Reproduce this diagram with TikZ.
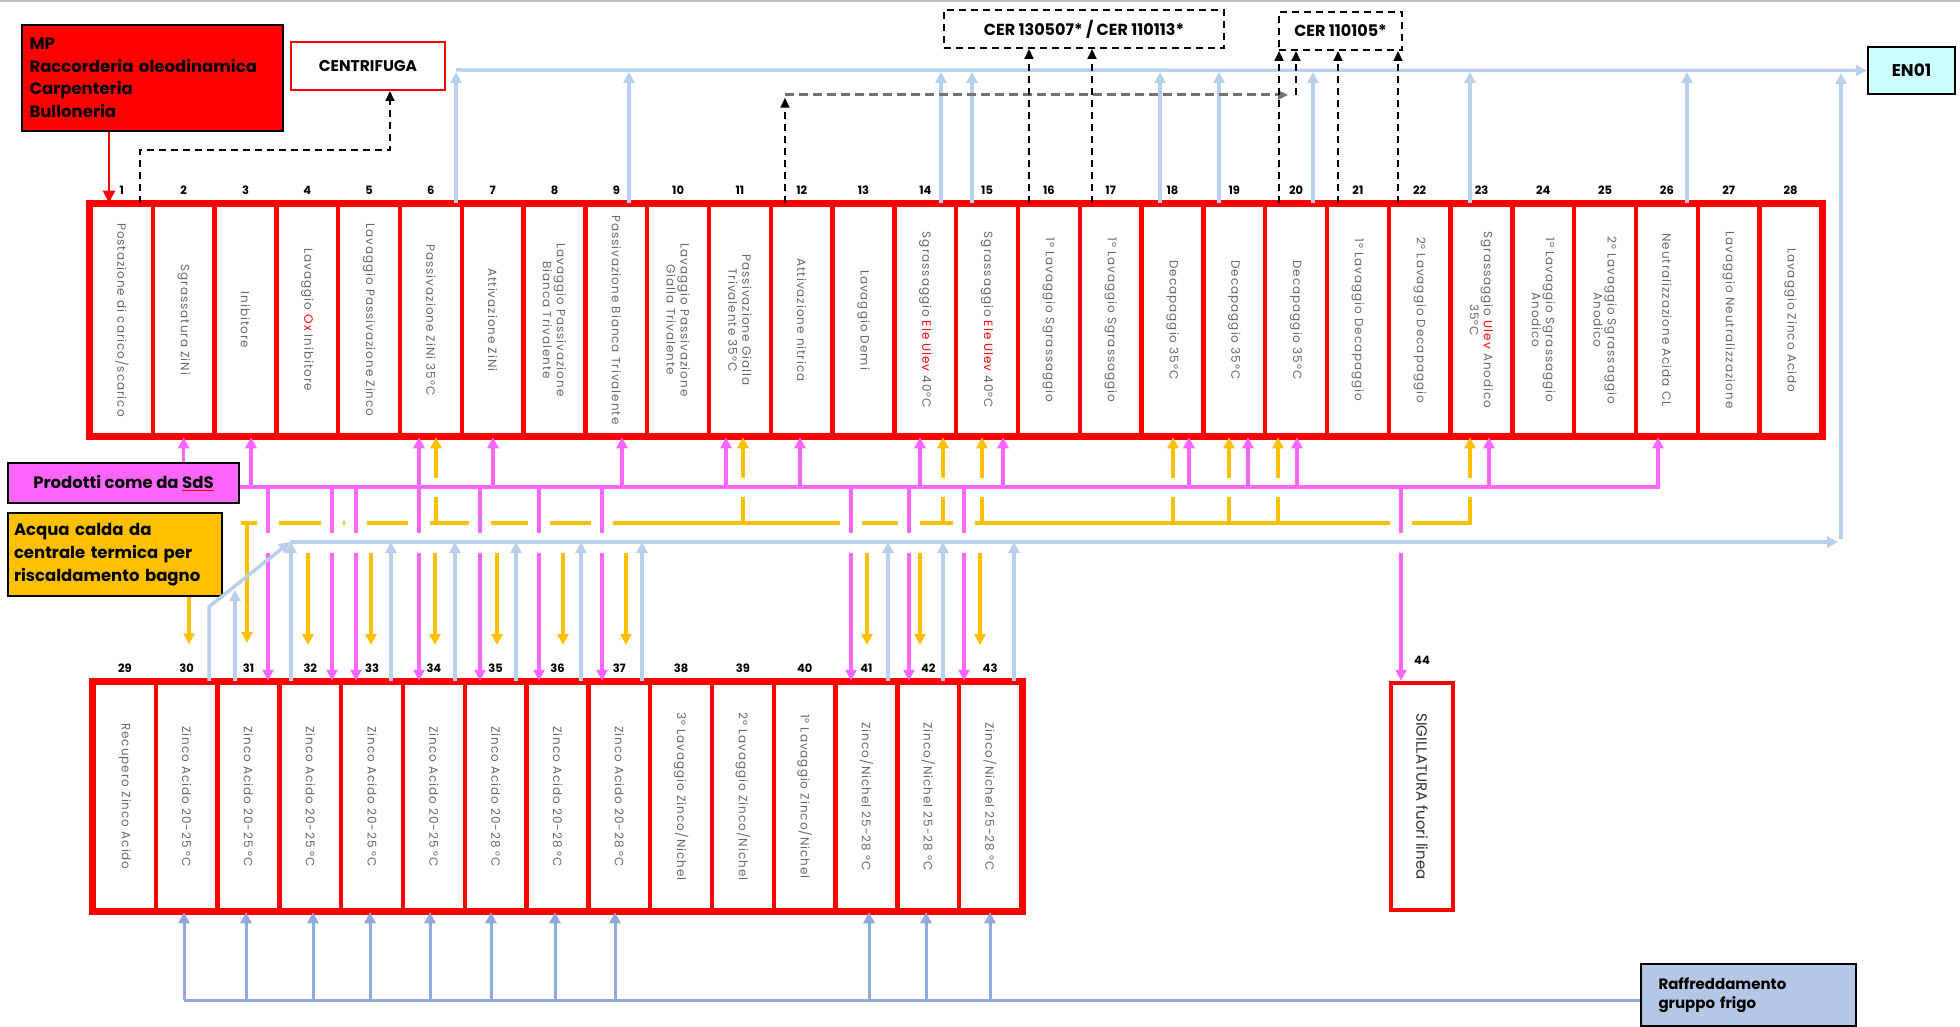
\documentclass[tikz,border=0pt]{standalone}
\usepackage{fontspec}
\setmainfont{Poppins}
\newfontfamily\cellfont{Poppins}[LetterSpace=8]
\usetikzlibrary{arrows.meta, positioning, calc}
\definecolor{cellred}{RGB}{255,0,0}
\definecolor{mypink}{RGB}{255,102,255}
\definecolor{myamber}{RGB}{255,192,0}
\definecolor{myblue}{RGB}{184,208,236}
\definecolor{mysteel}{RGB}{143,170,220}
\definecolor{hdrcyan}{RGB}{204,255,255}
\definecolor{hdrsteel}{RGB}{180,199,231}
\definecolor{txtgray}{RGB}{105,105,105}
\newcommand{\squig}[1]{{\color{red}\underline{\color{black}#1}}}
\tikzset{
  cell/.style={rectangle, draw=cellred, line width=4.5pt, minimum width=61.8pt, inner sep=0pt},
  celltext/.style={rotate=-90, font=\cellfont\fontsize{12}{14}\selectfont, text=txtgray, align=center, inner sep=0pt},
  num/.style={font=\fontsize{11.5}{13}\selectfont\bfseries, inner sep=0pt},
  tagbox/.style={rectangle, draw=black, line width=2.5pt, inner sep=0pt,
    font=\fontsize{16.5}{23}\selectfont\bfseries, align=left},
  dashbox/.style={rectangle, draw=black, line width=2pt, dash pattern=on 7pt off 5pt,
    inner sep=0pt, font=\fontsize{16}{18}\selectfont\bfseries},
  headtip/.style={-{Triangle[length=11pt, width=11pt]}},
  pinkline/.style={draw=mypink, line width=3.5pt},
  pinkarr/.style={pinkline, headtip},
  ambline/.style={draw=myamber, line width=3.5pt},
  ambarr/.style={ambline, headtip},
  blueline/.style={draw=myblue, line width=3.5pt},
  bluearr/.style={blueline, headtip},
  steelline/.style={draw=mysteel, line width=3pt},
  steelarr/.style={steelline, headtip},
  dasharr/.style={draw=black, line width=2pt, dash pattern=on 7pt off 5pt, -{Triangle[length=10pt, width=9pt]}},
  graydash/.style={draw=black!55, line width=3pt, dash pattern=on 9pt off 5pt, -{Triangle[length=10pt, width=9pt]}},
  crossgap/.style={draw=white, line width=22pt}
}
\begin{document}
\begin{tikzpicture}[x=1pt, y=-1pt]
  \useasboundingbox (0,0) rectangle (1960,1027);
  \draw[line width=1.5pt, black!25] (0,1) -- (1960,1);

  % Top row of tanks 1-28
  \foreach \i/\txt in {1/{Postazione di carico/scarico}, 2/{Sgrassatura ZiNi}, 3/{Inibitore},
      4/{Lavaggio \textcolor{red}{Ox} Inibitore}, 5/{Lavaggio Passivazione Zinco}, 6/{Passivazione ZiNi 35°C},
      7/{Attivazione ZiNi}, 8/{Lavaggio Passivazione\\Bianca Trivalente}, 9/{Passivazione Bianca Trivalente},
      10/{Lavaggio Passivazione\\Gialla Trivalente}, 11/{Passivazione Gialla\\Trivalente 35°C},
      12/{Attivazione nitrica}, 13/{Lavaggio Demi},
      14/{Sgrassaggio \textcolor{red}{Ele Ulev} 40°C}, 15/{Sgrassaggio \textcolor{red}{Ele Ulev} 40°C},
      16/{1° Lavaggio Sgrassaggio}, 17/{1° Lavaggio Sgrassaggio}, 18/{Decapaggio 35°C},
      19/{Decapaggio 35°C}, 20/{Decapaggio 35°C}, 21/{1° Lavaggio Decapaggio},
      22/{2° Lavaggio Decapaggio}, 23/{Sgrassaggio \textcolor{red}{Ulev} Anodico\\35°C},
      24/{1° Lavaggio Sgrassaggio\\Anodico}, 25/{2° Lavaggio Sgrassaggio\\Anodico},
      26/{Neutralizzazione Acida CL}, 27/{Lavaggio Neutralizzazione}, 28/{Lavaggio Zinco Acido}} {
    \node[cell, minimum height=230pt] (t\i) at ({121.9+(\i-1)*61.8}, 320) {};
    \node[celltext] (tx\i) at (t\i.center) {\txt};
    \node[num] (tn\i) at ({121.9+(\i-1)*61.8}, 190) {\i};
  }
  \draw[cellred, line width=5.5pt] (t1.north west) rectangle (t28.south east);

  % Bottom row of tanks 29-43
  \foreach \i/\txt in {29/{Recupero Zinco Acido}, 30/{Zinco Acido 20-25 °C}, 31/{Zinco Acido 20-25 °C},
      32/{Zinco Acido 20-25 °C}, 33/{Zinco Acido 20-25 °C}, 34/{Zinco Acido 20-25 °C},
      35/{Zinco Acido 20-28 °C}, 36/{Zinco Acido 20-28 °C}, 37/{Zinco Acido 20-28 °C},
      38/{3° Lavaggio Zinco/Nichel}, 39/{2° Lavaggio Zinco/Nichel}, 40/{1° Lavaggio Zinco/Nichel},
      41/{Zinco/Nichel 25-28 °C}, 42/{Zinco/Nichel 25-28 °C}, 43/{Zinco/Nichel 25-28 °C}} {
    \node[cell, minimum height=227pt] (b\i) at ({124.9+(\i-29)*61.8}, 796.5) {};
    \node[celltext] (bx\i) at (b\i.center) {\txt};
    \node[num] (bn\i) at ({124.9+(\i-29)*61.8}, 668) {\i};
  }
  \draw[cellred, line width=5.5pt] (b29.north west) rectangle (b43.south east);

  \node[cell, minimum width=62pt, minimum height=227pt] (b44) at (1422, 796.5) {};
  \node[celltext, font=\fontsize{15}{17}\selectfont, text=black!80] (bx44) at (b44.center) {SIGILLATURA fuori linea};
  \node[num] (bn44) at (1422, 660) {44};

  % Side boxes
  \node[tagbox, fill=red, minimum width=261pt, minimum height=106pt, text width=246pt,
    font=\fontsize{16.5}{22.5}\selectfont\bfseries] (mp) at (152.5, 78)
    {MP\\Raccorderia oleodinamica\\Carpenteria\\Bulloneria};
  \node[rectangle, draw=cellred, line width=2pt, minimum width=154pt, minimum height=48pt,
    font=\fontsize{15.5}{17}\selectfont\bfseries] (centri) at (368, 66) {CENTRIFUGA};
  \node[dashbox, minimum width=280pt, minimum height=38pt] (cera) at (1084, 29) {CER 130507* / CER 110113*};
  \node[dashbox, minimum width=123pt, minimum height=38pt] (cerb) at (1340.5, 31) {CER 110105*};
  \node[tagbox, fill=hdrcyan, minimum width=87pt, minimum height=47pt,
    font=\fontsize{17}{19}\selectfont\bfseries] (en) at (1911.5, 70.5) {EN01};
  \node[tagbox, fill=mypink, minimum width=231pt, minimum height=40pt] (prod) at (123.5, 483)
    {Prodotti come da \squig{SdS}};
  \node[tagbox, fill=myamber, minimum width=214pt, minimum height=83pt, text width=202pt] (acqua) at (115, 554.5)
    {Acqua calda da\\centrale termica per\\riscaldamento bagno};
  \node[tagbox, fill=hdrsteel, minimum width=215pt, minimum height=62pt, text width=180pt,
    font=\fontsize{15}{19}\selectfont\bfseries] (raf) at (1748.5, 995)
    {Raffreddamento\\gruppo frigo};

  % Bus levels
  \coordinate (tbus) at (0, 70);
  \coordinate (pbus) at (0, 487);
  \coordinate (ybus) at (0, 523);
  \coordinate (lbus) at (0, 542);
  \coordinate (cbus) at (0, 1000);

  % Hot water (amber)
  \draw[ambline] (241,0 |- ybus) -- (1470,0 |- ybus) -- ++(0,-26);
  \foreach \x/\c in {436/6, 743/11, 943/14, 982/15, 1173/18, 1229/19, 1278/20} {
    \draw[ambline] (\x,0 |- ybus) -- ++(0,-26);
  }
  \foreach \x/\c in {436/6, 743/11, 943/14, 982/15, 1173/18, 1229/19, 1278/20, 1470/23} {
    \draw[ambarr] (\x,0 |- pbus) ++(0,-9) -- (\x,0 |- t\c.south);
  }
  \draw[ambarr] (acqua.south -| 189,0) -- ++(0,47);
  \draw[ambarr] (247,0 |- ybus) -- ++(0,120);
  \foreach \x in {308, 371, 435, 497, 563, 626, 867, 920, 980} {
    \draw[ambarr] (\x,0 |- lbus) ++(0,11) -- ++(0,92);
  }

  % Products (pink)
  \draw[pinkarr] (prod.east |- pbus) -| (1658,0 |- t26.south);
  \draw[pinkarr] (prod.north -| t2.south) -- (t2.south);
  \foreach \x/\c in {251/3, 419/6, 493/7, 622/9, 726/11, 800/12, 920/14, 1003/15, 1189/18, 1248/19, 1297/20, 1489/23} {
    \draw[pinkarr] (\x,0 |- pbus) -- (\x,0 |- t\c.south);
  }
  \foreach \x/\c in {268/31, 332/32, 356/33, 419/34, 480/35, 539/36, 602/37, 851/41, 909/42, 964/43, 1401/44} {
    \draw[crossgap] (\x,0 |- ybus) ++(0,-10) -- ++(0,20);
    \draw[pinkline] (\x,0 |- pbus) -- ++(0,46);
    \draw[pinkarr] (\x,0 |- lbus) ++(0,11) -- (\x,0 |- b\c.north);
  }

  % Return lines (light blue)
  \coordinate (lstart) at (290, 542);
  \draw[bluearr] (b30.north -| 209,0) -- ++(0,-74) -- (lstart);
  \draw[bluearr] (lstart) -- (1838,0 |- lbus);
  \draw[bluearr] (1841,0 |- lbus) ++(0,-3) -- ($(1841,0)+(0,73)$);
  \draw[bluearr] (b31.north -| 235,0) -- (235, 590);
  \foreach \x/\c in {291/32, 391/33, 455/34, 516/35, 581/36, 642/37, 888/41, 943/42, 1014/43} {
    \draw[bluearr] (\x,0 |- b\c.north) -- (\x,0 |- lbus);
  }
  \draw[bluearr] (456,0 |- tbus) -- (en.west);
  \foreach \x/\c in {456/6, 629/9, 941/14, 972/15, 1160/18, 1219/19, 1313/20, 1470/23, 1687/26} {
    \draw[bluearr] (\x,0 |- t\c.north) -- ($(\x,0 |- tbus)+(0,2)$);
  }

  % Cooling (steel blue)
  \draw[steelline] (184,0 |- cbus) -- (raf.west |- cbus);
  \foreach \x/\c in {184/30, 246/31, 313/32, 370/33, 430/34, 491/35, 555/36, 615/37, 869/41, 926/42, 990/43} {
    \draw[steelarr] (\x,0 |- cbus) -- (\x,0 |- b\c.south);
  }

  % Raw material in
  \draw[draw=red, line width=2.5pt, -{Triangle[length=12pt, width=12pt]}] (mp.south -| 109,0) -- (109,0 |- t1.north);

  % Waste (dashed)
  \draw[dasharr] (t1.north -| 140,0) -- ++(0,-53) -| (390,0 |- centri.south);
  \draw[dasharr] (t12.north -| 785,0) -- ++(0,-105);
  \draw[graydash] (785,95) -- (1288,95);
  \draw[dasharr] (1296,95) -- (1296,0 |- cerb.south);
  \draw[dasharr] (t16.north -| 1029,0) -- (1029,0 |- cera.south);
  \draw[dasharr] (t17.north -| 1092,0) -- (1092,0 |- cera.south);
  \draw[dasharr] (t20.north -| 1279,0) -- (1279,0 |- cerb.south);
  \draw[dasharr] (t21.north -| 1338,0) -- (1338,0 |- cerb.south);
  \draw[dasharr] (t22.north -| 1398,0) -- (1398,0 |- cerb.south);
\end{tikzpicture}
\end{document}
